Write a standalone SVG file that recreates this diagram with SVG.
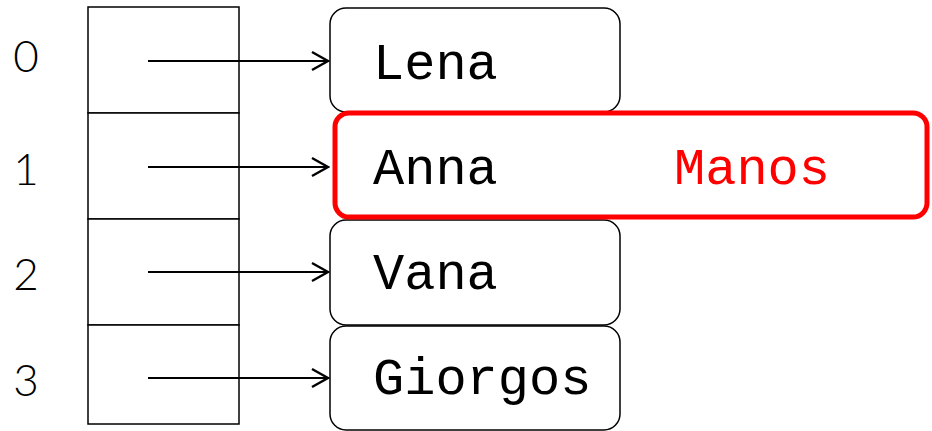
<svg xmlns="http://www.w3.org/2000/svg" width="932" height="431" viewBox="0 0 932 431">
  <style>
    .idx { font-family: Lato, "DejaVu Sans", sans-serif; font-weight: 300; font-size: 44px; fill: #000; text-anchor: middle; }
    .name { font-family: "Courier New", "Nimbus Mono PS", FreeMono, "Liberation Mono", monospace; font-size: 52px; fill: #000; }
    .cell { fill: #fff; stroke: #000; stroke-width: 1.5; }
    .box { fill: #fff; stroke: #000; stroke-width: 1.5; }
    .hl { fill: #fff; stroke: #ff0000; stroke-width: 5; }
    .link { stroke: #000; stroke-width: 2.2; fill: none; marker-end: url(#arrow); }
  </style>
  <defs>
    <marker id="arrow" viewBox="0 0 20 22" refX="19" refY="11" markerWidth="20" markerHeight="22" markerUnits="userSpaceOnUse" orient="auto">
      <path d="M2,2 L18,11 L2,20" fill="none" stroke="#000" stroke-width="2.4"/>
    </marker>
  </defs>

  <!-- index array -->
  <g id="array">
    <rect class="cell" x="88" y="7" width="151" height="106"/>
    <rect class="cell" x="88" y="113" width="151" height="106"/>
    <rect class="cell" x="88" y="219" width="151" height="106"/>
    <rect class="cell" x="88" y="325" width="151" height="99"/>
    <text class="idx" x="26" y="72">0</text>
    <text class="idx" x="26" y="185">1</text>
    <text class="idx" x="26" y="290">2</text>
    <text class="idx" x="26" y="396">3</text>
  </g>

  <!-- list nodes -->
  <g id="node-lena">
    <rect class="box" x="330" y="8" width="290" height="104" rx="16"/>
    <text class="name" x="373" y="79">Lena</text>
  </g>
  <g id="node-vana">
    <rect class="box" x="330" y="220" width="290" height="105" rx="16"/>
    <text class="name" x="373" y="289">Vana</text>
  </g>
  <g id="node-giorgos">
    <rect class="box" x="330" y="326" width="290" height="104" rx="16"/>
    <text class="name" x="373" y="394">Giorgos</text>
  </g>
  <g id="node-anna">
    <rect class="hl" x="335" y="113" width="592" height="104" rx="14"/>
    <text class="name" x="373" y="184">Anna</text>
    <text class="name" x="674" y="184" style="fill:#ff0000">Manos</text>
  </g>

  <!-- pointers -->
  <g id="connectors">
    <line class="link" x1="148" y1="61" x2="329" y2="61"/>
    <line class="link" x1="148" y1="167" x2="329" y2="167"/>
    <line class="link" x1="148" y1="272" x2="329" y2="272"/>
    <line class="link" x1="148" y1="378" x2="329" y2="378"/>
  </g>
</svg>
